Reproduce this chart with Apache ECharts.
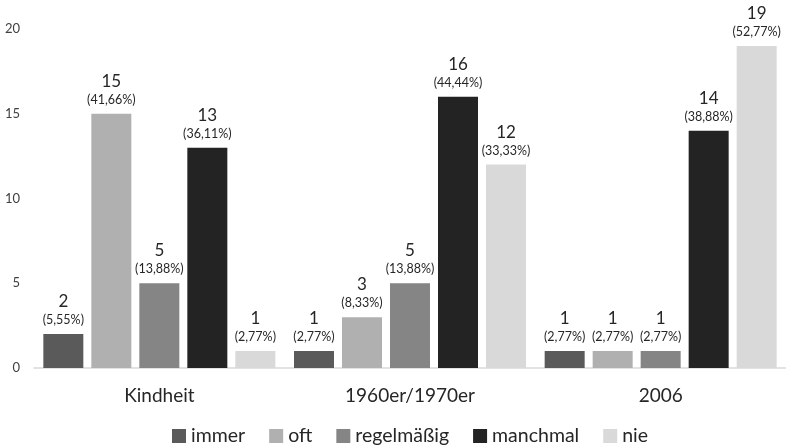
<!DOCTYPE html>
<html>
<head>
<meta charset="utf-8">
<script src="https://cdn.jsdelivr.net/npm/echarts@6/dist/echarts.min.js"></script>
<style>
  html, body { margin: 0; padding: 0; background: #fff; }
  #chart { width: 786px; height: 447px; }
</style>
</head>
<body>
<div id="chart"></div>
<script>
// Zeiträume (Kategorien)
const categories = ['Kindheit', '1960er/1970er', '2006'];

// Häufigkeit je Antwort und Zeitraum (absolute Zahlen)
const immer      = [2, 1, 1];
const oft        = [15, 3, 1];
const regelmaessig = [5, 5, 1];
const manchmal   = [13, 16, 14];
const nie        = [1, 12, 19];

// Prozentangaben, wie beschriftet
const immerPct      = ['5,55%', '2,77%', '2,77%'];
const oftPct        = ['41,66%', '8,33%', '2,77%'];
const regelmaessigPct = ['13,88%', '13,88%', '2,77%'];
const manchmalPct   = ['36,11%', '44,44%', '38,88%'];
const niePct        = ['2,77%', '33,33%', '52,77%'];

const yTicks = [0, 5, 10, 15, 20];

const FONT = 'Lato, "Open Sans", sans-serif';

function makeSeries(name, values, pcts, color) {
  return {
    name: name,
    type: 'bar',
    barWidth: 40,
    barGap: '20%',
    itemStyle: { color: color },
    data: values,
    label: {
      show: true,
      position: 'top',
      distance: 6,
      fontFamily: FONT,
      formatter: function (p) {
        return '{v|' + p.value + '}\n{p|(' + pcts[p.dataIndex] + ')}';
      },
      rich: {
        v: { fontSize: 17, color: '#262626', fontFamily: FONT, lineHeight: 21 },
        p: { fontSize: 12.5, color: '#262626', fontFamily: FONT, lineHeight: 16 }
      }
    }
  };
}

const chart = echarts.init(document.getElementById('chart'), null, { renderer: 'canvas' });
chart.setOption({
  animation: false,
  backgroundColor: '#ffffff',
  textStyle: { fontFamily: FONT },
  grid: { left: 34, top: 29, width: 757, height: 339, containLabel: false },
  legend: {
    left: 167,
    top: 421,
    itemWidth: 14,
    itemHeight: 14,
    itemGap: 24,
    icon: 'rect',
    textStyle: { fontSize: 19.5, color: '#262626', fontFamily: FONT },
    data: ['immer', 'oft', 'regelmäßig', 'manchmal', 'nie']
  },
  xAxis: {
    type: 'category',
    data: categories,
    axisLine: { lineStyle: { color: '#d9d9d9', width: 1.5 } },
    axisTick: { show: false },
    axisLabel: { fontSize: 19, color: '#262626', margin: 18, fontFamily: FONT }
  },
  yAxis: {
    type: 'value',
    min: yTicks[0],
    max: yTicks[yTicks.length - 1],
    interval: 5,
    splitLine: { show: false },
    axisLine: { show: false },
    axisTick: { show: false },
    axisLabel: { fontSize: 13, color: '#404040', margin: 14, fontFamily: FONT }
  },
  series: [
    makeSeries('immer', immer, immerPct, '#5a5a5a'),
    makeSeries('oft', oft, oftPct, '#b0b0b0'),
    makeSeries('regelmäßig', regelmaessig, regelmaessigPct, '#858585'),
    makeSeries('manchmal', manchmal, manchmalPct, '#232323'),
    makeSeries('nie', nie, niePct, '#d9d9d9')
  ]
});
</script>
</body>
</html>
